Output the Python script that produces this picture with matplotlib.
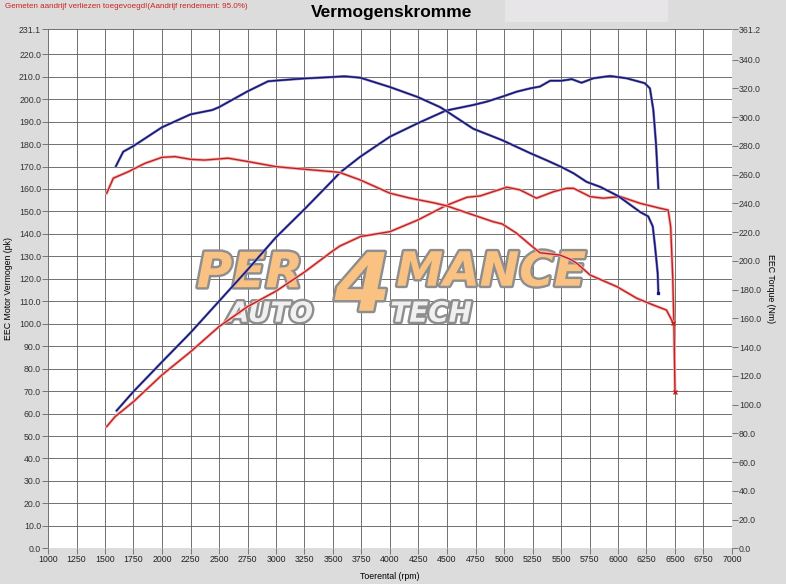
import numpy as np
import matplotlib
matplotlib.use("Agg")
import matplotlib.pyplot as plt
import matplotlib.patheffects as pe
from matplotlib.patches import Rectangle

plt.rcParams['font.family'] = ['Liberation Sans', 'DejaVu Sans']

# blue run - power (pk, left axis)
rpm_pow_blue = [1602, 1748, 2000, 2250, 2500, 2750, 3000, 3250, 3500, 3561, 3740, 4000, 4245,
                4490, 4730, 4850, 4985, 5110, 5230, 5315, 5405, 5505, 5595, 5680, 5785, 5930,
                6075, 6235, 6280, 6310, 6333, 6354]
pow_blue = [61.3, 69.7, 83.0, 96.0, 110.0, 124.0, 138.5, 151.0, 164.0, 167.3, 174.4, 183.3, 189.3,
            194.9, 197.4, 198.9, 201.1, 203.3, 204.8, 205.6, 208.2, 208.2, 208.9, 207.3, 209.3, 210.3,
            209.3, 207.1, 204.8, 195.2, 180.4, 160.3]

# blue run - torque (Nm, right axis)
rpm_tq_blue = [1596, 1660, 1750, 2000, 2250, 2440, 2500, 2750, 2930, 3000, 3250, 3500, 3600, 3740,
               4000, 4245, 4440, 4490, 4730, 4985, 5230, 5375, 5500, 5610, 5725, 5845, 6005, 6195,
               6265, 6305, 6325, 6348, 6354]
tq_blue = [266, 276, 280, 293, 302, 305, 307, 318, 325, 325.5, 327, 328, 328.5, 327.5,
           321, 314, 307, 304.5, 292, 284, 275, 270, 265.5, 261, 255, 251.5, 245, 234,
           231, 224, 210, 191.5, 178]

# red run - power (pk, left axis)
rpm_pow_red = [1515, 1588, 1750, 2000, 2250, 2500, 2750, 3000, 3250, 3500, 3561, 3740, 4000, 4245,
               4490, 4675, 4790, 5025, 5140, 5285, 5435, 5550, 5610, 5755, 5870, 6020, 6195, 6370,
               6440, 6462, 6480, 6491, 6500]
pow_red = [54.2, 58.6, 65.3, 77.2, 87.5, 98.7, 107.6, 114.5, 123.0, 132.5, 134.6, 138.8, 141.0, 146.2,
           152.6, 156.3, 156.9, 160.8, 159.6, 155.9, 158.8, 160.3, 160.3, 156.6, 155.9, 156.6, 153.6, 151.4,
           150.6, 143.2, 121.0, 98.7, 69.7]

# red run - torque (Nm, right axis)
rpm_tq_red = [1515, 1573, 1705, 1850, 2000, 2115, 2250, 2375, 2580, 2750, 3000, 3250, 3500, 3561,
              3740, 4000, 4175, 4380, 4490, 4730, 4905, 4985, 5110, 5230, 5315, 5490, 5580, 5640,
              5755, 5990, 6165, 6310, 6425, 6456, 6485]
tq_red = [247.1, 257.6, 262.1, 267.9, 272.1, 272.6, 270.7, 270.2, 271.5, 269.2, 265.6, 263.8, 262.1, 261.5,
          256.3, 247.1, 243.7, 240.5, 238.5, 232.0, 227.3, 225.7, 219.3, 211.2, 205.7, 204.1, 201.2, 198.3,
          190.2, 182.1, 174.0, 169.3, 165.8, 161.1, 156.6]

x_ticks = list(range(1000, 7001, 250))
left_ticks = [i * 10.0 for i in range(23)] + [231.1]
right_ticks = [i * 20.0 for i in range(18)] + [361.2]

bg = '#dcdcdc'
blue = '#16167a'
red = '#c41f1d'

fig = plt.figure(figsize=(7.86, 5.84), dpi=100, facecolor=bg)
fig.patches.append(Rectangle((505 / 786, 1 - 22 / 584), 163 / 786, 22 / 584,
                             transform=fig.transFigure, facecolor='#e7e5e8', edgecolor='none'))

ax = fig.add_axes([48 / 786, 35.7 / 584, 684 / 786, 519 / 584])
ax2 = ax.twinx()

ax.set_xlim(1000, 7000)
ax.set_ylim(0, 231.1)
ax2.set_ylim(0, 361.2)

ax.set_xticks(x_ticks)
ax.set_xticklabels([str(t) for t in x_ticks], fontsize=6.3, color='#222222')
ax.set_yticks(left_ticks)
ax.set_yticklabels(['%.1f' % t for t in left_ticks], fontsize=6.3, color='#333333')
ax2.set_yticks(right_ticks)
ax2.set_yticklabels(['%.1f' % t for t in right_ticks], fontsize=6.3, color='#333333')

for a in (ax, ax2):
    for s in a.spines.values():
        s.set_visible(False)
    a.tick_params(length=4, width=0.6, color='#666666', pad=1)

ax.grid(True, color='#5a5a5a', linewidth=0.6)
ax.set_axisbelow(True)

ax.set_xlabel('Toerental (rpm)', fontsize=6.3, labelpad=2)
ax.xaxis.set_label_coords(0.5, -0.045)
ax.set_ylabel('EEC Motor Vermogen (pk)', fontsize=6.3, labelpad=4)
ax2.set_ylabel('EEC Torque (Nm)', fontsize=6.3, rotation=-90, labelpad=10)

halo_r = [pe.Stroke(linewidth=2.2, foreground='#f0b4b4'), pe.Normal()]
halo_b = [pe.Stroke(linewidth=1.9, foreground='#8a8abd'), pe.Normal()]

ax.plot(rpm_pow_blue, pow_blue, color=blue, lw=1.1, zorder=5, path_effects=halo_b)
ax.plot(rpm_pow_red, pow_red, color=red, lw=1.0, zorder=5, path_effects=halo_r)
ax2.plot(rpm_tq_blue, tq_blue, color=blue, lw=1.1, zorder=5, path_effects=halo_b)
ax2.plot(rpm_tq_red, tq_red, color=red, lw=1.0, zorder=5, path_effects=halo_r)
ax.plot([rpm_pow_red[-1]], [pow_red[-1]], marker='x', ms=3, color=red, zorder=6)
ax2.plot([rpm_tq_red[-1]], [tq_red[-1]], marker='x', ms=3, color=red, zorder=6)
ax2.plot([rpm_tq_blue[-1]], [tq_blue[-1]], marker='s', ms=2, color=blue, zorder=6)

# watermark logo
logo_fx = [pe.Stroke(linewidth=3.5, foreground='#8e8e8e'), pe.Normal()]
logo = dict(transform=ax.transAxes, fontweight='bold', fontstyle='italic', family='DejaVu Sans',
            ha='center', va='center', path_effects=logo_fx, zorder=3)
ax.text(0.295, 0.53, 'PER', fontsize=35, color='#f9c283', **logo)
ax.text(0.648, 0.53, 'MANCE', fontsize=34, color='#f9c283', **logo)
ax.text(0.46, 0.5, '4', fontsize=58, color='#f9c283', **logo)
ax.text(0.325, 0.452, 'AUTO', fontsize=20, color='#f0f0f0', **logo)
ax.text(0.56, 0.452, 'TECH', fontsize=20, color='#f0f0f0', **logo)

fig.text(392 / 786, 1 - 12 / 584, 'Vermogenskromme', fontsize=12.5, fontweight='bold',
         ha='center', va='center')
fig.text(5 / 786, 1 - 7 / 584, 'Gemeten aandrijf verliezen toegevoegd!(Aandrijf rendement: 95.0%)',
         fontsize=5.8, color='#d02020', ha='left', va='center')

fig.savefig('out.png', dpi=100, facecolor=bg)
